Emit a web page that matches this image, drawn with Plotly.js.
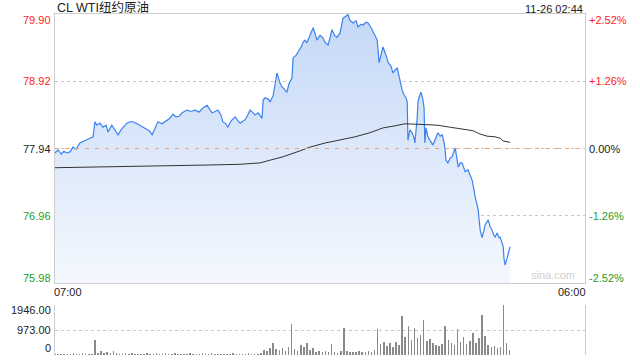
<!DOCTYPE html>
<html><head><meta charset="utf-8">
<script src="https://cdn.plot.ly/plotly-3.0.1.min.js"></script>
<style>body{margin:0;background:#fff}#c{width:640px;height:360px}</style>
</head><body><div id="c"></div>
<script>
const chartTitle = 'CL WTI纽约原油';
const stamp = '11-26 02:44';
const watermark = 'sina.com';
const prevClose = 77.94;
const priceTicks = [75.98, 76.96, 77.94, 78.92, 79.90];
const pctTicks = ['-2.52%', '-1.26%', '0.00%', '+1.26%', '+2.52%'];
const timeTickMin = [0, 1380];
const timeTickText = ['07:00', '06:00'];
const volTicks = [0, 973, 1946];
const volTickText = ['0', '973.00', '1946.00'];

// minutes after 07:00
const priceMin = [0,8,16,23,31,39,47,55,65,76,83,91,99,104,109,117,125,133,138,148,156,164,172,180,187,195,203,214,221,234,245,253,260,268,279,286,294,299,307,315,323,331,344,354,365,375,385,396,404,409,417,424,432,437,445,450,458,469,477,482,490,495,503,508,516,521,529,539,542,547,555,560,568,573,578,586,591,599,604,609,617,620,628,633,641,646,651,656,664,672,677,682,690,698,703,711,716,721,729,734,742,750,755,763,768,776,784,789,797,802,810,815,823,828,833,839,844,849,854,862,867,875,880,885,891,896,904,909,914,917,919,924,930,935,937,943,945,950,953,958,961,963,966,971,976,984,989,997,1003,1008,1013,1016,1018,1023,1029,1034,1042,1047,1050,1055,1060,1068,1075,1081,1086,1091,1094,1099,1102,1107,1112,1117,1120,1125,1128,1133,1138,1143,1146,1151,1156,1159,1164,1167,1169,1172,1174,1180,1185];
const priceVal = [77.875,77.92,77.86,77.90,77.875,77.89,77.96,77.93,78.02,78.05,78.08,78.09,78.11,78.33,78.28,78.31,78.25,78.28,78.18,78.28,78.21,78.14,78.21,78.27,78.31,78.33,78.33,78.30,78.28,78.24,78.20,78.14,78.24,78.33,78.30,78.33,78.36,78.38,78.44,78.40,78.41,78.46,78.50,78.48,78.50,78.47,78.53,78.57,78.50,78.46,78.48,78.50,78.43,78.33,78.30,78.25,78.34,78.40,78.34,78.31,78.34,78.36,78.44,78.50,78.46,78.43,78.46,78.38,78.65,78.68,78.66,78.62,78.71,78.87,79.04,78.89,78.84,78.79,78.76,78.88,78.97,79.26,79.30,79.35,79.42,79.49,79.52,79.48,79.59,79.70,79.62,79.52,79.59,79.55,79.49,79.45,79.55,79.67,79.58,79.56,79.62,79.84,79.86,79.89,79.81,79.77,79.80,79.71,79.75,79.74,79.78,79.77,79.70,79.64,79.59,79.52,79.19,79.30,79.42,79.30,79.20,79.14,79.04,79.08,79.11,78.99,78.79,78.72,78.68,78.62,78.06,78.21,78.17,78.09,78.02,78.38,78.62,78.72,78.76,78.65,78.53,78.02,78.24,78.11,78.06,77.99,78.06,78.17,78.12,78.14,78.03,77.92,77.77,77.73,77.80,77.82,77.95,77.77,77.67,77.73,77.73,77.60,77.63,77.55,77.48,77.34,77.23,77.12,77.04,76.75,76.64,76.75,76.83,76.87,76.90,76.80,76.75,76.67,76.65,76.71,76.64,76.65,76.56,76.51,76.34,76.24,76.28,76.42,76.51];

const avgMin = [0,99,195,299,404,482,534,560,594,630,664,703,742,781,820,854,885,911,958,995,1029,1068,1088,1107,1125,1146,1159,1167,1180,1185];
const avgVal = [77.66,77.67,77.67,77.69,77.70,77.71,77.73,77.77,77.82,77.89,77.96,78.02,78.06,78.11,78.17,78.24,78.27,78.30,78.29,78.28,78.25,78.22,78.20,78.15,78.12,78.11,78.09,78.05,78.03,78.03];

const volStep = 8; // minutes between volume bars
const volVal = [40,30,55,35,25,45,60,30,40,70,35,50,45,
  580,
  90,150,60,110,80,140,60,
  50,40,70,35,60,45,30,55,40,65,
  35,50,80,40,30,60,45,35,70,40,
  55,30,45,60,35,50,40,65,30,45,
  60,40,35,55,45,30,50,70,40,35,
  55,45,60,40,50,35,80,
  195,150,260,480,230,180,260,150,300,1206,250,170,390,300,450,200,260,130,150,100,160,120,430,110,90,150,1040,160,120,130,100,150,110,130,170,120,180,1000,420,520,360,480,320,520,400,1520,700,1130,600,1070,650,780,1360,560,620,480,390,350,420,1130,600,450,380,1000,520,690,420,560,870,480,650,1560,740,390,300,350,260,330,1946,450,195];
const volMin = volVal.map((v, i) => i * volStep);

const RED = '#f22', GREEN = '#1e9e1e', BLACK = '#222';
const colFor = v => v > prevClose + 1e-9 ? RED : (v < prevClose - 1e-9 ? GREEN : BLACK);

const mainBottom = 0.2111, volTop = 0.1466;
const pMin = priceTicks[0], pMax = priceTicks[priceTicks.length - 1];
const vMax = volTicks[volTicks.length - 1];
const FAM = 'Liberation Sans, Arial, sans-serif';

const traces = [
  {x: priceMin, y: priceVal, type: 'scatter', mode: 'lines', xaxis: 'x', yaxis: 'y',
   line: {color: '#3c82ee', width: 1.2}, fill: 'tozeroy',
   fillgradient: {type: 'vertical', start: pMin, stop: pMax,
     colorscale: [[0, 'rgb(244,248,254)'], [1, 'rgb(196,216,247)']]},
   hoverinfo: 'skip'},
  {x: avgMin, y: avgVal, type: 'scatter', mode: 'lines', xaxis: 'x', yaxis: 'y',
   line: {color: '#333', width: 1}, hoverinfo: 'skip'},
  {x: volMin, y: volVal, type: 'bar', xaxis: 'x2', yaxis: 'y3', width: volStep * 0.5,
   marker: {color: '#8a8a8a', line: {width: 0}}, hoverinfo: 'skip'}
];

// edge labels sit inside the panel (Sina style)
const edgeShift = (i, n, down, up) => i === n - 1 ? -down : (i === 0 ? up : 0);

const annotations = [
  {xref: 'paper', yref: 'paper', x: 0, y: 1, xanchor: 'left', yanchor: 'bottom', yshift: -3,
   text: chartTitle, showarrow: false, font: {family: 'Liberation Sans, Noto Sans CJK SC, sans-serif', size: 12.5, color: '#222'}},
  {xref: 'paper', yref: 'paper', x: 1, y: 1, xanchor: 'right', yanchor: 'bottom', yshift: -3,
   text: stamp, showarrow: false, font: {family: FAM, size: 11, color: '#222'}},
  {xref: 'paper', yref: 'paper', x: 1, y: mainBottom, xanchor: 'right', yanchor: 'bottom', xshift: -8,
   text: watermark, showarrow: false, font: {family: FAM, size: 11, color: '#d0d0d0'}}
];
priceTicks.forEach((v, i) => {
  const ys = edgeShift(i, priceTicks.length, 6, 5);
  annotations.push({xref: 'paper', yref: 'y', x: 0, y: v, xanchor: 'right', yanchor: 'middle', xshift: -2, yshift: ys,
    text: v.toFixed(2), showarrow: false, font: {family: FAM, size: 11, color: colFor(v)}});
  annotations.push({xref: 'paper', yref: 'y', x: 1, y: v, xanchor: 'left', yanchor: 'middle', xshift: 2, yshift: ys,
    text: pctTicks[i], showarrow: false, font: {family: FAM, size: 11, color: colFor(v)}});
});
volTicks.forEach((v, i) => {
  const ys = edgeShift(i, volTicks.length, 5, 7);
  annotations.push({xref: 'paper', yref: 'y3', x: 0, y: v, xanchor: 'right', yanchor: 'middle', xshift: -2, yshift: ys,
    text: volTickText[i], showarrow: false, font: {family: FAM, size: 11, color: '#222'}});
});
timeTickMin.forEach((m, i) => annotations.push({
  xref: 'x', yref: 'paper', x: m, y: mainBottom, yanchor: 'top', xanchor: i === 0 ? 'left' : 'right',
  text: timeTickText[i], showarrow: false, xshift: i === 0 ? -3 : 3, yshift: -1,
  font: {family: FAM, size: 11, color: '#222'}}));

const layout = {
  width: 640, height: 360, margin: {l: 55, r: 55, t: 14, b: 5},
  paper_bgcolor: '#fff', plot_bgcolor: '#fff', showlegend: false, bargap: 0,
  font: {family: FAM, size: 11, color: BLACK},
  xaxis: {domain: [0, 1], range: [0, 1380], anchor: 'y', showticklabels: false, ticks: '',
    showgrid: false, zeroline: false, showline: true, mirror: true, linecolor: '#ccc', linewidth: 1, fixedrange: true},
  yaxis: {domain: [mainBottom, 1], range: [pMin, pMax], tickvals: priceTicks, showticklabels: false,
    ticks: '', showgrid: true, gridcolor: '#c8c8c8', griddash: 'dot', gridwidth: 1, zeroline: false,
    showline: true, mirror: true, linecolor: '#ccc', fixedrange: true},
  xaxis2: {domain: [0, 1], range: [0, 1380], anchor: 'y3', showticklabels: false, ticks: '',
    showgrid: false, zeroline: false, showline: false, fixedrange: true},
  yaxis3: {domain: [0, volTop], range: [0, vMax], anchor: 'x2', tickvals: volTicks, showticklabels: false,
    ticks: '', showgrid: true, gridcolor: '#c8c8c8', griddash: 'dot', zeroline: false,
    showline: true, mirror: true, linecolor: '#ccc', fixedrange: true},
  shapes: [{type: 'line', xref: 'paper', yref: 'y', x0: 0, x1: 1, y0: prevClose, y1: prevClose,
    line: {color: '#f0a070', width: 1, dash: '4px,6px'}}],
  annotations: annotations
};

Plotly.newPlot('c', traces, layout, {displayModeBar: false, staticPlot: true});
</script>
</body></html>
